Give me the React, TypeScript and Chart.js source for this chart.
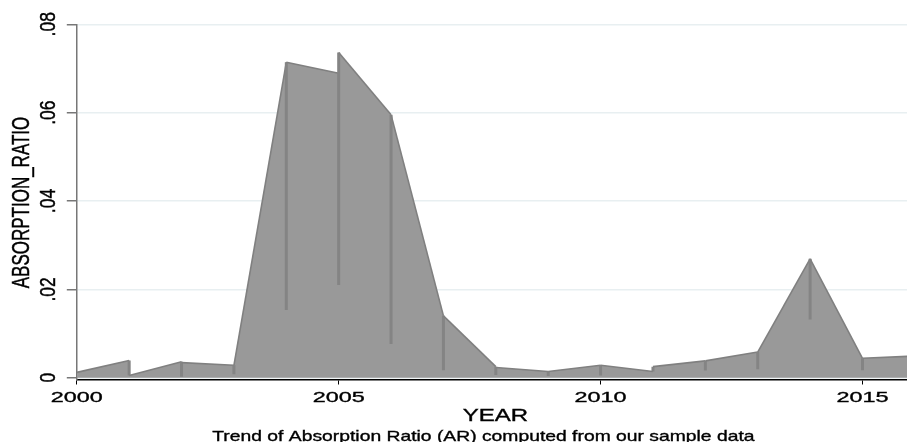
import React, { useEffect, useRef } from "react";
import { Chart, registerables } from "chart.js";

Chart.register(...registerables);

// Observations (several per year, in file order)
const years = [
  2000, 2001, 2001, 2002, 2002, 2002, 2003, 2003, 2003, 2004, 2004, 2004,
  2005, 2005, 2005, 2006, 2006, 2006, 2007, 2007, 2007, 2008, 2008, 2008,
  2009, 2009, 2009, 2010, 2010, 2010, 2011, 2011, 2012, 2012, 2012,
  2013, 2013, 2013, 2014, 2014, 2014, 2015, 2015, 2015, 2016,
];
const ratios = [
  0.0012, 0.0039, 0.0005, 0.0036, 0.0002, 0.0034, 0.0028, 0.0008, 0.0028,
  0.0714, 0.0153, 0.0714, 0.0689, 0.021, 0.0736, 0.0595, 0.0076, 0.0595,
  0.014, 0.0017, 0.014, 0.0025, 0.0006, 0.0023, 0.0014, 0.0004, 0.0014,
  0.0028, 0.0005, 0.0028, 0.0014, 0.0025, 0.0038, 0.0016, 0.0038,
  0.0058, 0.0019, 0.0058, 0.0269, 0.0132, 0.0269, 0.0044, 0.0017, 0.0044,
  0.0049,
];

const xTickValues = [2000, 2005, 2010, 2015];
const xTickLabels = ["2000", "2005", "2010", "2015"];
const yTickValues = [0, 0.02, 0.04, 0.06, 0.08];
const yTickLabels = ["0", ".02", ".04", ".06", ".08"];

const xTitle = "YEAR";
const yTitle = "ABSORPTION_RATIO";
const caption = "Trend of Absorption Ratio (AR) computed from our sample data";

const FAM = '"Liberation Sans", Arial, Helvetica, sans-serif';

const textPlugin = {
  id: "stataText",
  afterDraw(chart: any) {
    const ctx: CanvasRenderingContext2D = chart.ctx;
    const xs = chart.scales.x;
    const ys = chart.scales.y;
    const ca = chart.chartArea;
    const paint = (t: string) => {
      ctx.fillText(t, 0, 0);
      ctx.lineWidth = 0.35;
      ctx.strokeStyle = "#000";
      ctx.strokeText(t, 0, 0);
    };
    const hText = (t: string, cx: number, base: number, size: number, sx: number) => {
      ctx.save();
      ctx.font = `${size}px ${FAM}`;
      ctx.fillStyle = "#000";
      ctx.translate(cx, base);
      ctx.scale(sx, 1);
      ctx.textAlign = "center";
      ctx.textBaseline = "alphabetic";
      paint(t);
      ctx.restore();
    };
    const vText = (t: string, base: number, cy: number, size: number, s: number) => {
      ctx.save();
      ctx.font = `${size}px ${FAM}`;
      ctx.fillStyle = "#000";
      ctx.translate(base, cy);
      ctx.rotate(-Math.PI / 2);
      ctx.scale(1, s);
      ctx.textAlign = "center";
      ctx.textBaseline = "alphabetic";
      paint(t);
      ctx.restore();
    };
    xTickValues.forEach((v, i) => hText(xTickLabels[i], xs.getPixelForValue(v), 402, 15, 1.56));
    yTickValues.forEach((v, i) => vText(yTickLabels[i], 55, ys.getPixelForValue(v), 17.5, 1.3));
    const midX = (ca.left + ca.right) / 2;
    hText(xTitle, midX + 3.5, 420.7, 16, 1.5);
    vText(yTitle, 29.3, (ca.top + ys.getPixelForValue(0)) / 2 + 1.5, 17, 1.37);
    hText(caption, midX - 8.5, 441, 15, 1.287);
  },
};

export default function App() {
  const ref = useRef<HTMLCanvasElement | null>(null);

  useEffect(() => {
    if (!ref.current) return;
    const points = years.map((y, i) => ({ x: y, y: ratios[i] }));
    const isVertical = (c: any) => c.p0.parsed.x === c.p1.parsed.x;
    const chart = new Chart(ref.current, {
      type: "line",
      data: {
        datasets: [
          {
            // outline with within-year spikes
            data: points,
            order: 0,
            fill: false,
            borderColor: "#808080",
            borderWidth: 1.6,
            pointRadius: 0,
            tension: 0,
            segment: {
              borderWidth: (c: any) => (isVertical(c) ? 3 : 1.6),
              borderColor: (c: any) => (isVertical(c) ? "#848484" : "#808080"),
            },
          },
          {
            // filled area
            data: points,
            order: 1,
            fill: "origin",
            backgroundColor: "#999999",
            borderWidth: 0,
            borderColor: "rgba(0,0,0,0)",
            pointRadius: 0,
            tension: 0,
          },
        ],
      },
      options: {
        animation: false,
        responsive: false,
        devicePixelRatio: 1,
        layout: { padding: { top: 24.3, left: 0, right: 0, bottom: 0 } },
        plugins: { legend: { display: false }, tooltip: { enabled: false }, title: { display: false } },
        scales: {
          x: {
            type: "linear",
            min: 2000,
            max: 2015.85,
            afterBuildTicks: (s: any) => {
              s.ticks = xTickValues.map((value) => ({ value }));
            },
            afterFit: (s: any) => {
              s.height = 62.5;
            },
            ticks: { display: false },
            grid: {
              drawOnChartArea: false,
              drawTicks: true,
              tickLength: 5,
              tickColor: "#000",
              tickWidth: 1,
            },
            border: { display: true, color: "#000", width: 1.5 },
          },
          y: {
            type: "linear",
            min: -0.00041,
            max: 0.08,
            afterBuildTicks: (s: any) => {
              s.ticks = yTickValues.map((value) => ({ value }));
            },
            afterFit: (s: any) => {
              s.width = 76.8;
            },
            ticks: { display: false },
            grid: {
              color: "#e8eff1",
              lineWidth: 1.5,
              drawTicks: true,
              tickLength: 10,
              tickColor: "#777777",
              tickWidth: 1.5,
            },
            border: { display: true, color: "#777777", width: 1.5 },
          },
        },
      },
      plugins: [textPlugin],
    });
    return () => chart.destroy();
  }, []);

  return (
    <div style={{ position: "fixed", left: 0, top: 0, width: 907, height: 442, background: "#fff" }}>
      <canvas ref={ref} width={907} height={442} style={{ display: "block", width: 907, height: 442 }} />
    </div>
  );
}
